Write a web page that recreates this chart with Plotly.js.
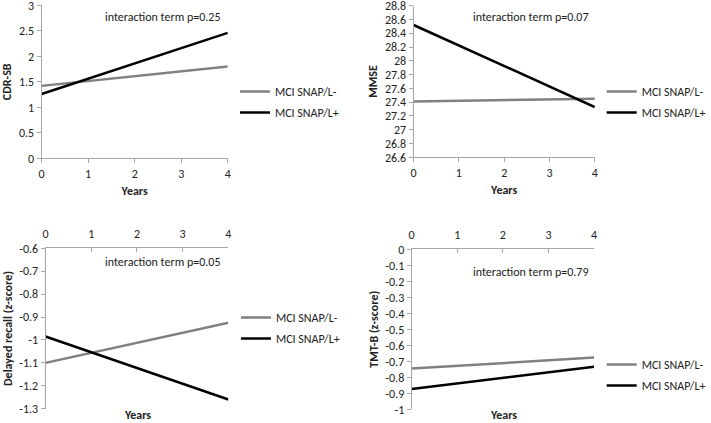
<!DOCTYPE html>
<html>
<head>
<meta charset="utf-8">
<script src="https://cdn.plot.ly/plotly-3.0.1.min.js"></script>
<style>html,body{margin:0;padding:0;background:#fff;}#chart{width:711px;height:423px;}</style>
</head>
<body>
<div id="chart"></div>
<script>
// ---- data ----
const years = [0, 4];
const seriesNames = ["MCI SNAP/L-", "MCI SNAP/L+"];
const cdrNeg = [1.42, 1.80];
const cdrPos = [1.26, 2.46];
const mmseNeg = [27.41, 27.45];
const mmsePos = [28.52, 27.33];
const recallNeg = [-1.10, -0.925];
const recallPos = [-0.985, -1.26];
const tmtNeg = [-0.745, -0.677];
const tmtPos = [-0.873, -0.734];
const xTicks = [0, 1, 2, 3, 4];
const cdrTicks = [0, 0.5, 1, 1.5, 2, 2.5, 3];
const cdrTickText = ["0", "0.5", "1", "1.5", "2", "2.5", "3"];
const mmseTicks = [26.6, 26.8, 27, 27.2, 27.4, 27.6, 27.8, 28, 28.2, 28.4, 28.6, 28.8];
const mmseTickText = ["26.6", "26.8", "27", "27.2", "27.4", "27.6", "27.8", "28", "28.2", "28.4", "28.6", "28.8"];
const recallTicks = [-1.3, -1.2, -1.1, -1, -0.9, -0.8, -0.7, -0.6];
const recallTickText = ["-1.3", "-1.2", "-1.1", "-1", "-0.9", "-0.8", "-0.7", "-0.6"];
const tmtTicks = [-1, -0.9, -0.8, -0.7, -0.6, -0.5, -0.4, -0.3, -0.2, -0.1, 0];
const tmtTickText = ["-1", "-0.9", "-0.8", "-0.7", "-0.6", "-0.5", "-0.4", "-0.3", "-0.2", "-0.1", "0"];
const pTexts = ["interaction term p=0.25", "interaction term p=0.07", "interaction term p=0.05", "interaction term p=0.79"];
const yTitles = ["CDR-SB", "MMSE", "Delayed recall (z-score)", "TMT-B (z-score)"];
const xTitle = "Years";

const FONT = "Carlito, Lato, sans-serif";
const GRAY = "#808080", BLACK = "#000000", AXIS = "#a6a6a6";

const panels = [[cdrNeg, cdrPos], [mmseNeg, mmsePos], [recallNeg, recallPos], [tmtNeg, tmtPos]];
const traces = [];
panels.forEach((p, i) => {
  const sfx = i === 0 ? "" : String(i + 1);
  const lg = i === 0 ? "legend" : "legend" + (i + 1);
  traces.push({x: years, y: p[0], name: seriesNames[0], type: "scatter", mode: "lines", legendgroup: "a" + i,
    line: {color: GRAY, width: 2.5}, xaxis: "x" + sfx, yaxis: "y" + sfx, legend: lg, hoverinfo: "skip"});
  traces.push({x: years, y: p[1], name: seriesNames[1], type: "scatter", mode: "lines", legendgroup: "b" + i,
    line: {color: BLACK, width: 2.5}, xaxis: "x" + sfx, yaxis: "y" + sfx, legend: lg, hoverinfo: "skip"});
});

function xa(dom, side, anchor, showTitle) {
  return {domain: dom, range: [0, 4], tickvals: xTicks, side: side, anchor: anchor,
    showline: true, linecolor: AXIS, linewidth: 1, ticks: side === "top" ? "inside" : "outside",
    ticklen: 4, tickcolor: AXIS, showgrid: false, zeroline: false, fixedrange: true,
    ticklabeloverflow: "allow", ticklabelstandoff: side === "top" ? 5 : 0,
    tickfont: {family: FONT, size: 12, color: "#222"},
    title: showTitle ? {text: xTitle, font: {family: FONT, size: 12, color: "#222", weight: "bold"}, standoff: 6} : {text: ""}};
}
function ya(dom, range, tv, tt, title, anchor) {
  return {domain: dom, range: range, tickvals: tv, ticktext: tt, anchor: anchor,
    showline: true, linecolor: AXIS, linewidth: 1, ticks: "outside", ticklen: 4, tickcolor: AXIS,
    showgrid: false, zeroline: false, fixedrange: true, ticklabeloverflow: "allow",
    tickfont: {family: FONT, size: 12, color: "#222"},
    title: {text: title, font: {family: FONT, size: 12, color: "#222", weight: "bold"}, standoff: 4}};
}
function legendAt(x, y) {
  return {x: x, y: y, xanchor: "left", yanchor: "top", bgcolor: "rgba(0,0,0,0)",
    font: {family: FONT, size: 12, color: "#222"}, itemwidth: 30, tracegroupgap: 2};
}
const W = 711, H = 423;
const px = v => v / W, py = v => 1 - v / H;
function note(text, x, y, ya) {
  return {text: text, x: px(x), y: py(y), xref: "paper", yref: "paper", xanchor: "center", yanchor: ya || "middle",
    showarrow: false, borderpad: 0, font: {family: FONT, size: 12, color: "#222"}};
}

const layout = {
  width: W, height: H, margin: {l: 0, r: 0, t: 0, b: 0}, showlegend: true,
  paper_bgcolor: "#fff", plot_bgcolor: "#fff",
  xaxis: xa([px(42.3), px(231.7)], "bottom", "y", true),
  yaxis: ya([py(158.3), py(5.3)], [0, 3], cdrTicks, cdrTickText, yTitles[0], "x"),
  xaxis2: xa([px(420.7), px(605)], "bottom", "y2", true),
  yaxis2: ya([py(157.3), py(5.7)], [26.6, 28.8], mmseTicks, mmseTickText, yTitles[1], "x2"),
  xaxis3: xa([px(46.3), px(232.3)], "top", "y3", false),
  yaxis3: ya([py(408.7), py(248.3)], [-1.3, -0.6], recallTicks, recallTickText, yTitles[2], "x3"),
  xaxis4: xa([px(418.7), px(604.3)], "top", "y4", false),
  yaxis4: ya([py(409.3), py(249.3)], [-1, 0], tmtTicks, tmtTickText, yTitles[3], "x4"),
  legend: legendAt(px(239), py(77)),
  legend2: legendAt(px(612), py(77)),
  legend3: legendAt(px(240), py(303)),
  legend4: legendAt(px(612), py(350)),
  annotations: [
    note(pTexts[0], 166, 17),
    note(pTexts[1], 540, 17),
    note(pTexts[2], 166, 262),
    note(pTexts[3], 540, 272),
    note("<b>" + xTitle + "</b>", 140, 423, "bottom"),
    note("<b>" + xTitle + "</b>", 512, 423, "bottom")
  ]
};
Plotly.newPlot("chart", traces, layout, {staticPlot: true, displayModeBar: false});
</script>
</body>
</html>
